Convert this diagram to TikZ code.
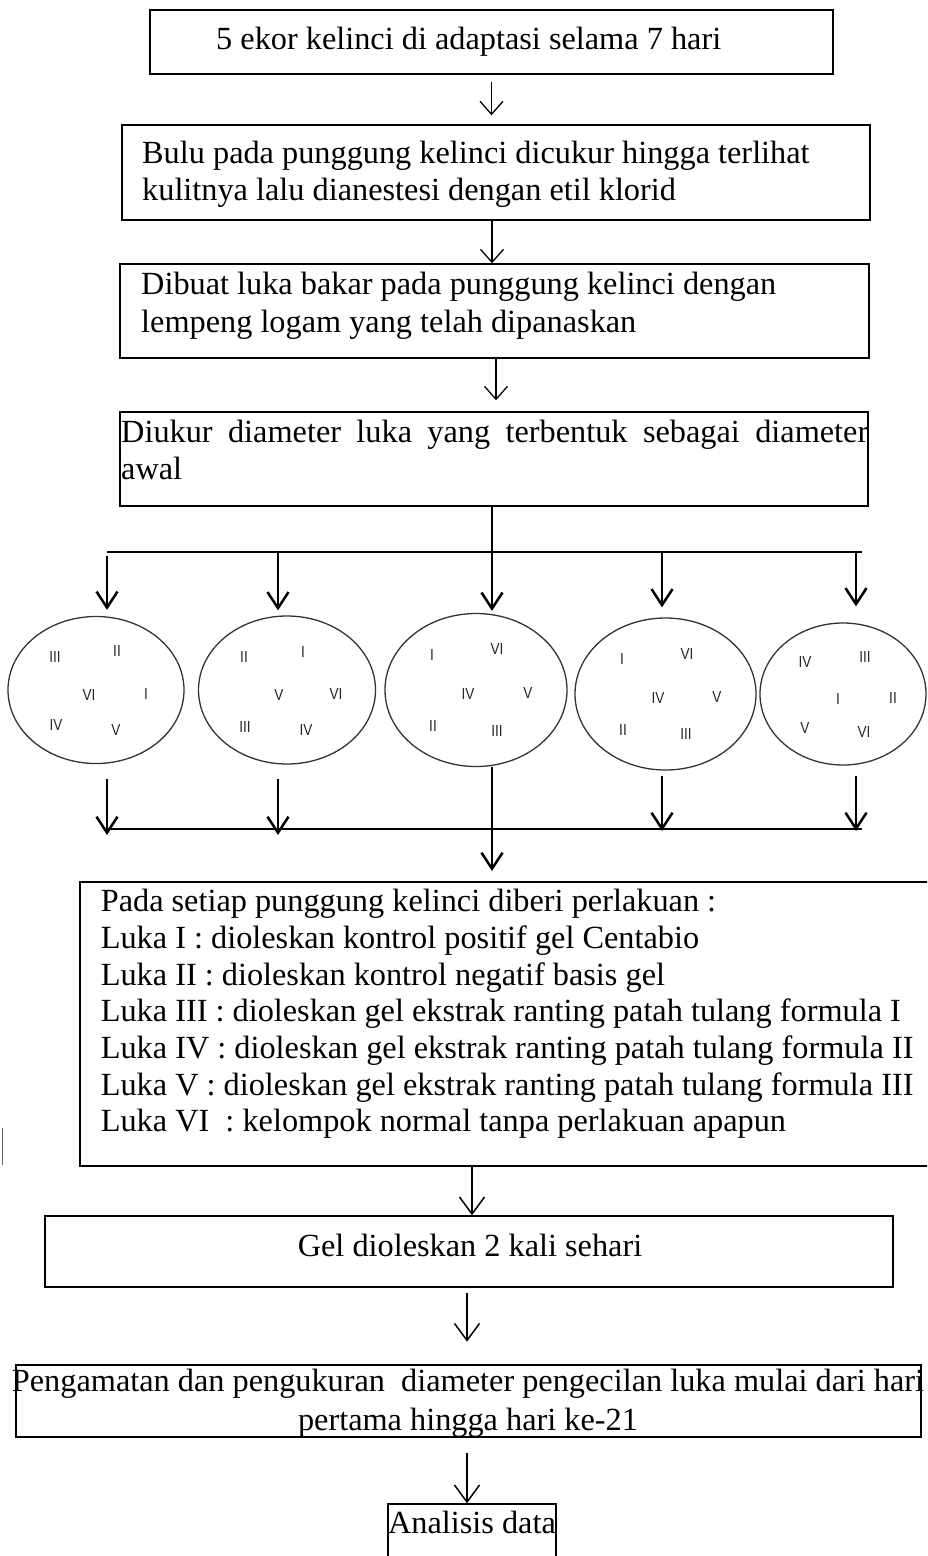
\documentclass[tikz,border=0pt]{standalone}
\usepackage{fontspec}
\setmainfont{Liberation Serif}
\newfontfamily\numfont[FakeStretch=0.85]{Liberation Sans}
\usetikzlibrary{arrows.meta,shapes.geometric}
\tikzset{
  box/.style={draw=black, line width=1.4pt, rectangle, inner sep=0pt},
  txt/.style={anchor=base west, inner sep=0pt, font=\fontsize{32.3pt}{36.7pt}\selectfont},
  ctxt/.style={anchor=base, inner sep=0pt, font=\fontsize{32.3pt}{36.7pt}\selectfont},
  oval/.style={draw=black!80, line width=1.3pt, ellipse, inner sep=0pt},
  num/.style={inner sep=0pt, font=\numfont\fontsize{16pt}{16pt}\selectfont, text=black!85},
  thinarr/.style={line width=1.3pt, -{Straight Barb[length=13pt,width=23pt,line width=1.3pt]}},
  thickarr/.style={line width=2.5pt, -{Straight Barb[length=16pt,width=21pt,line width=2.5pt]}},
  lowarr/.style={line width=1.5pt, -{Straight Barb[length=17pt,width=25pt,line width=1.5pt]}},
  rail/.style={line width=1.3pt}
}
\begin{document}
\begin{tikzpicture}[x=1pt,y=-1pt]
\useasboundingbox (0,0) rectangle (927,1556);
\clip (0,0) rectangle (927,1556);

% boxes
\node[box, minimum width=683pt, minimum height=64pt] (b1) at (491.5,42) {};
\node[box, minimum width=748pt, minimum height=95pt] (b2) at (496,172.5) {};
\node[box, minimum width=749pt, minimum height=94pt] (b3) at (494.5,311) {};
\node[box, minimum width=748pt, minimum height=94pt] (b4) at (494,459) {};
\node[box, minimum width=860pt, minimum height=284pt] (b5) at (510,1024) {};
\node[box, minimum width=848pt, minimum height=71pt] (b6) at (469,1251.5) {};
\node[box, line width=2.6pt, minimum width=905pt, minimum height=72pt] (b7) at (468.5,1401) {};
\node[box, minimum width=168pt, minimum height=80pt] (b8) at (472,1544) {};

% texts
\node[txt] (t1) at (216,49.7) {5 ekor kelinci di adaptasi selama 7 hari};
\node[txt] (t2a) at (142,163) {Bulu pada punggung kelinci dicukur hingga terlihat};
\node[txt] (t2b) at (142,200.6) {kulitnya lalu dianestesi dengan etil klorid};
\node[txt] (t3a) at (141,294.6) {Dibuat luka bakar pada punggung kelinci dengan};
\node[txt] (t3b) at (141,332) {lempeng logam yang telah dipanaskan};
\node[txt] (t4a) at (121,442) {\makebox[747pt][s]{Diukur diameter luka yang terbentuk sebagai diameter}};
\node[txt] (t4b) at (121,479) {awal};

\node[txt] (t5a) at (100.6,911.7) {Pada setiap punggung kelinci diberi perlakuan :};
\node[txt] (t5b) at (100.6,948.3) {Luka I : dioleskan kontrol positif gel Centabio};
\node[txt] (t5c) at (100.6,985) {Luka II : dioleskan kontrol negatif basis gel};
\node[txt] (t5d) at (100.6,1021.7) {Luka III : dioleskan gel ekstrak ranting patah tulang formula I};
\node[txt] (t5e) at (100.6,1058.3) {Luka IV : dioleskan gel ekstrak ranting patah tulang formula II};
\node[txt] (t5f) at (100.6,1095) {Luka V : dioleskan gel ekstrak ranting patah tulang formula III};
\node[txt] (t5g) at (100.6,1131.7) {Luka VI\ \ : kelompok normal tanpa perlakuan apapun};

\node[ctxt] (t6) at (470,1256) {Gel dioleskan 2 kali sehari};
\node[ctxt] (t7a) at (468,1391.7) {Pengamatan dan pengukuran\ \ diameter pengecilan luka mulai dari hari};
\node[ctxt] (t7b) at (468,1430) {pertama hingga hari ke-21};
\node[ctxt] (t8) at (472,1533) {Analisis data};

% upper arrows
\draw[thinarr, shorten <=7pt, shorten >=9pt] (b1.south) -- (b1.south |- b2.north);
\draw[thinarr] (b2.south -| 492,0) -- (b3.north -| 492,0);
\draw[thinarr, shorten >=11pt] (b3.south -| 496,0) -- (b4.north -| 496,0);

% ellipses
\node[oval, minimum width=176pt, minimum height=147pt] (e1) at (96,690) {};
\node[oval, minimum width=177pt, minimum height=148pt] (e2) at (287,690) {};
\node[oval, minimum width=182pt, minimum height=153pt] (e3) at (476,690) {};
\node[oval, minimum width=181pt, minimum height=152pt] (e4) at (665.5,694) {};
\node[oval, minimum width=166pt, minimum height=142pt] (e5) at (843,694) {};

% rails
\coordinate (r1) at (107,552);
\coordinate (r2) at (278,552);
\coordinate (r3) at (492,552);
\coordinate (r4) at (662,552);
\coordinate (r5) at (856,552);
\coordinate (rl) at (107,552);
\coordinate (rr) at (862,552);
\draw[rail] (rl) -- (rr);
\coordinate (q1) at (107,829);
\coordinate (q2) at (862,829);
\draw[rail] (q1) -- (q2);

% arrows into ellipses
\draw[thickarr, shorten <=4pt, shorten >=6pt] (r1) -- (r1 |- e1.north);
\draw[thickarr, shorten <=1pt, shorten >=5pt] (r2) -- (r2 |- e2.north);
\draw[thickarr, shorten >=2pt] (r3 |- b4.south) -- (r3 |- e3.north);
\draw[thickarr, shorten >=10pt] (r4) -- (r4 |- e4.north);
\draw[thickarr, shorten >=16pt] (r5) -- (r5 |- e5.north);

% arrows out of ellipses
\coordinate (d1) at (107,835);
\coordinate (d2) at (278,835);
\coordinate (d3) at (492,871);
\coordinate (d4) at (662,831);
\coordinate (d5) at (856,831);
\draw[thickarr, shorten <=15pt] (d1 |- e1.south) -- (d1);
\draw[thickarr, shorten <=14pt] (d2 |- e2.south) -- (d2);
\draw[thickarr] (d3 |- e3.south) -- (d3);
\draw[thickarr, shorten <=5pt] (d4 |- e4.south) -- (d4);
\draw[thickarr, shorten <=10pt] (d5 |- e5.south) -- (d5);

% lower arrows
\draw[lowarr] (b5.south -| 472,0) -- (b6.north -| 472,0);
\draw[lowarr, shorten <=5pt, shorten >=22pt] (b6.south -| 467,0) -- (b7.north -| 467,0);
\draw[lowarr, shorten <=15pt] (b7.south -| 467,0) -- (b8.north -| 467,0);

% stray mark at left
\draw[black!60, line width=1pt] (2,1128) -- (2,1165);

% numerals
\foreach \x/\y/\t in {
  55/657/III, 117/651/II, 89/695/VI, 146/694/I, 56/725/IV, 116/730/V,
  244/657/II, 303/652/I, 279/695/V, 336/694/VI, 245/727/III, 306/730/IV,
  432/655/I, 497/649/VI, 468/694/IV, 528/693/V, 433/726/II, 497/731/III,
  622/659/I, 687/654/VI, 658/698/IV, 717/697/V, 623/730/II, 686/734/III,
  805/662/IV, 865/657/III, 838/699/I, 893/698/II, 805/728/V, 864/732/VI}
  \node[num] at (\x,\y) {\t};
\end{tikzpicture}
\end{document}
